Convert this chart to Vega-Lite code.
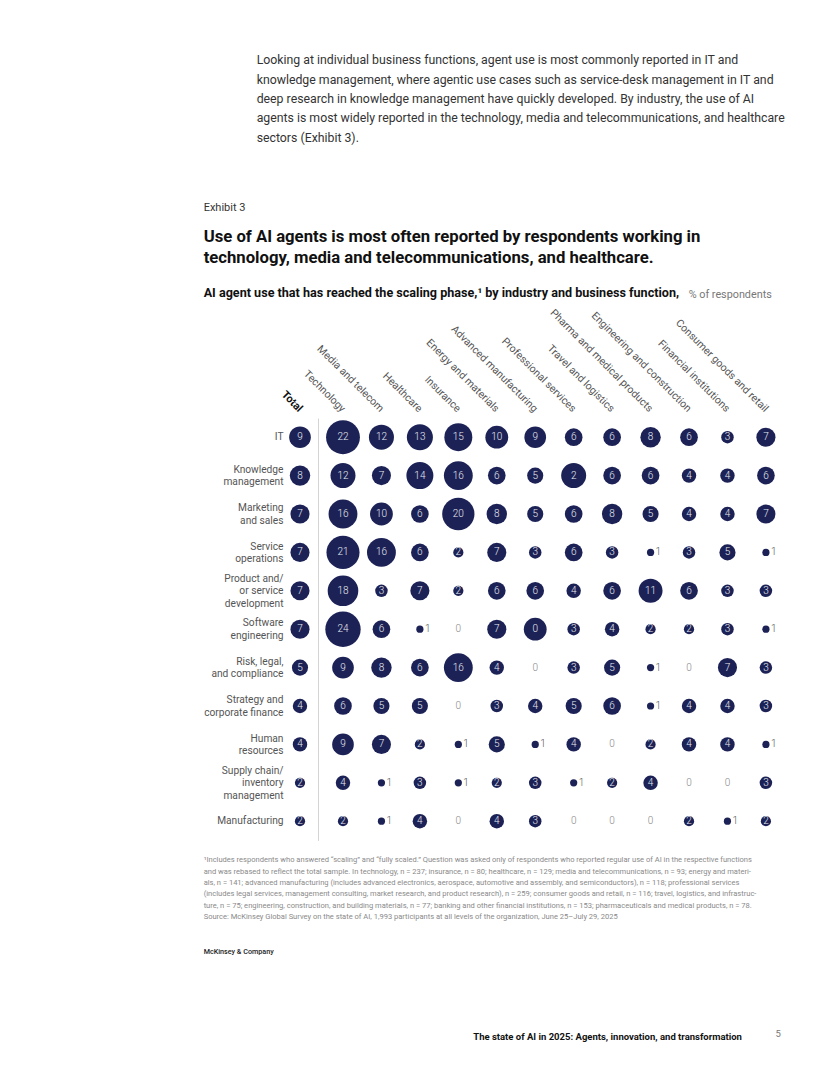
{
  "$schema": "https://vega.github.io/schema/vega-lite/v6.json",
  "padding": {"left": 203, "top": 54, "right": 0, "bottom": 0},
  "autosize": {"type": "pad"},
  "background": "white",
  "config": {
    "view": {"stroke": null},
    "font": "Roboto",
    "title": {"anchor": "start", "frame": "bounds", "font": "Roboto", "fontWeight": "normal", "color": "#333"},
    "axis": {"ticks": false, "domain": false, "grid": false, "title": null, "labelFont": "Roboto", "labelOverlap": false, "labelBound": false}
  },
  "data": {"values": [
    {"f":"IT","i":"Total","v":9},{"f":"IT","i":"Technology","v":22},{"f":"IT","i":"Media and telecom","v":12},{"f":"IT","i":"Healthcare","v":13},{"f":"IT","i":"Insurance","v":15},{"f":"IT","i":"Energy and materials","v":10},{"f":"IT","i":"Advanced manufacturing","v":9},{"f":"IT","i":"Professional services","v":6},{"f":"IT","i":"Travel and logistics","v":6},{"f":"IT","i":"Pharma and medical products","v":8},{"f":"IT","i":"Engineering and construction","v":6},{"f":"IT","i":"Financial institutions","v":3},{"f":"IT","i":"Consumer goods and retail","v":7},
    {"f":"Knowledge management","i":"Total","v":8},{"f":"Knowledge management","i":"Technology","v":12},{"f":"Knowledge management","i":"Media and telecom","v":7},{"f":"Knowledge management","i":"Healthcare","v":14},{"f":"Knowledge management","i":"Insurance","v":16},{"f":"Knowledge management","i":"Energy and materials","v":6},{"f":"Knowledge management","i":"Advanced manufacturing","v":5},{"f":"Knowledge management","i":"Professional services","v":12,"t":"2"},{"f":"Knowledge management","i":"Travel and logistics","v":6},{"f":"Knowledge management","i":"Pharma and medical products","v":6},{"f":"Knowledge management","i":"Engineering and construction","v":4},{"f":"Knowledge management","i":"Financial institutions","v":4},{"f":"Knowledge management","i":"Consumer goods and retail","v":6},
    {"f":"Marketing and sales","i":"Total","v":7},{"f":"Marketing and sales","i":"Technology","v":16},{"f":"Marketing and sales","i":"Media and telecom","v":10},{"f":"Marketing and sales","i":"Healthcare","v":6},{"f":"Marketing and sales","i":"Insurance","v":20},{"f":"Marketing and sales","i":"Energy and materials","v":8},{"f":"Marketing and sales","i":"Advanced manufacturing","v":5},{"f":"Marketing and sales","i":"Professional services","v":6},{"f":"Marketing and sales","i":"Travel and logistics","v":8},{"f":"Marketing and sales","i":"Pharma and medical products","v":5},{"f":"Marketing and sales","i":"Engineering and construction","v":4},{"f":"Marketing and sales","i":"Financial institutions","v":4},{"f":"Marketing and sales","i":"Consumer goods and retail","v":7},
    {"f":"Service operations","i":"Total","v":7},{"f":"Service operations","i":"Technology","v":21},{"f":"Service operations","i":"Media and telecom","v":16},{"f":"Service operations","i":"Healthcare","v":6},{"f":"Service operations","i":"Insurance","v":2},{"f":"Service operations","i":"Energy and materials","v":7},{"f":"Service operations","i":"Advanced manufacturing","v":3},{"f":"Service operations","i":"Professional services","v":6},{"f":"Service operations","i":"Travel and logistics","v":3},{"f":"Service operations","i":"Pharma and medical products","v":1},{"f":"Service operations","i":"Engineering and construction","v":3},{"f":"Service operations","i":"Financial institutions","v":5},{"f":"Service operations","i":"Consumer goods and retail","v":1},
    {"f":"Product and/or service development","i":"Total","v":7},{"f":"Product and/or service development","i":"Technology","v":18},{"f":"Product and/or service development","i":"Media and telecom","v":3},{"f":"Product and/or service development","i":"Healthcare","v":7},{"f":"Product and/or service development","i":"Insurance","v":2},{"f":"Product and/or service development","i":"Energy and materials","v":6},{"f":"Product and/or service development","i":"Advanced manufacturing","v":6},{"f":"Product and/or service development","i":"Professional services","v":4},{"f":"Product and/or service development","i":"Travel and logistics","v":6},{"f":"Product and/or service development","i":"Pharma and medical products","v":11},{"f":"Product and/or service development","i":"Engineering and construction","v":6},{"f":"Product and/or service development","i":"Financial institutions","v":3},{"f":"Product and/or service development","i":"Consumer goods and retail","v":3},
    {"f":"Software engineering","i":"Total","v":7},{"f":"Software engineering","i":"Technology","v":24},{"f":"Software engineering","i":"Media and telecom","v":6},{"f":"Software engineering","i":"Healthcare","v":1},{"f":"Software engineering","i":"Insurance","v":0},{"f":"Software engineering","i":"Energy and materials","v":7},{"f":"Software engineering","i":"Advanced manufacturing","v":10,"t":"0"},{"f":"Software engineering","i":"Professional services","v":3},{"f":"Software engineering","i":"Travel and logistics","v":4},{"f":"Software engineering","i":"Pharma and medical products","v":2},{"f":"Software engineering","i":"Engineering and construction","v":2},{"f":"Software engineering","i":"Financial institutions","v":3},{"f":"Software engineering","i":"Consumer goods and retail","v":1},
    {"f":"Risk, legal, and compliance","i":"Total","v":5},{"f":"Risk, legal, and compliance","i":"Technology","v":9},{"f":"Risk, legal, and compliance","i":"Media and telecom","v":8},{"f":"Risk, legal, and compliance","i":"Healthcare","v":6},{"f":"Risk, legal, and compliance","i":"Insurance","v":16},{"f":"Risk, legal, and compliance","i":"Energy and materials","v":4},{"f":"Risk, legal, and compliance","i":"Advanced manufacturing","v":0},{"f":"Risk, legal, and compliance","i":"Professional services","v":3},{"f":"Risk, legal, and compliance","i":"Travel and logistics","v":5},{"f":"Risk, legal, and compliance","i":"Pharma and medical products","v":1},{"f":"Risk, legal, and compliance","i":"Engineering and construction","v":0},{"f":"Risk, legal, and compliance","i":"Financial institutions","v":7},{"f":"Risk, legal, and compliance","i":"Consumer goods and retail","v":3},
    {"f":"Strategy and corporate finance","i":"Total","v":4},{"f":"Strategy and corporate finance","i":"Technology","v":6},{"f":"Strategy and corporate finance","i":"Media and telecom","v":5},{"f":"Strategy and corporate finance","i":"Healthcare","v":5},{"f":"Strategy and corporate finance","i":"Insurance","v":0},{"f":"Strategy and corporate finance","i":"Energy and materials","v":3},{"f":"Strategy and corporate finance","i":"Advanced manufacturing","v":4},{"f":"Strategy and corporate finance","i":"Professional services","v":5},{"f":"Strategy and corporate finance","i":"Travel and logistics","v":6},{"f":"Strategy and corporate finance","i":"Pharma and medical products","v":1},{"f":"Strategy and corporate finance","i":"Engineering and construction","v":4},{"f":"Strategy and corporate finance","i":"Financial institutions","v":4},{"f":"Strategy and corporate finance","i":"Consumer goods and retail","v":3},
    {"f":"Human resources","i":"Total","v":4},{"f":"Human resources","i":"Technology","v":9},{"f":"Human resources","i":"Media and telecom","v":7},{"f":"Human resources","i":"Healthcare","v":2},{"f":"Human resources","i":"Insurance","v":1},{"f":"Human resources","i":"Energy and materials","v":5},{"f":"Human resources","i":"Advanced manufacturing","v":1},{"f":"Human resources","i":"Professional services","v":4},{"f":"Human resources","i":"Travel and logistics","v":0},{"f":"Human resources","i":"Pharma and medical products","v":2},{"f":"Human resources","i":"Engineering and construction","v":4},{"f":"Human resources","i":"Financial institutions","v":4},{"f":"Human resources","i":"Consumer goods and retail","v":1},
    {"f":"Supply chain/inventory management","i":"Total","v":2},{"f":"Supply chain/inventory management","i":"Technology","v":4},{"f":"Supply chain/inventory management","i":"Media and telecom","v":1},{"f":"Supply chain/inventory management","i":"Healthcare","v":3},{"f":"Supply chain/inventory management","i":"Insurance","v":1},{"f":"Supply chain/inventory management","i":"Energy and materials","v":2},{"f":"Supply chain/inventory management","i":"Advanced manufacturing","v":3},{"f":"Supply chain/inventory management","i":"Professional services","v":1},{"f":"Supply chain/inventory management","i":"Travel and logistics","v":2},{"f":"Supply chain/inventory management","i":"Pharma and medical products","v":4},{"f":"Supply chain/inventory management","i":"Engineering and construction","v":0},{"f":"Supply chain/inventory management","i":"Financial institutions","v":0},{"f":"Supply chain/inventory management","i":"Consumer goods and retail","v":3},
    {"f":"Manufacturing","i":"Total","v":2},{"f":"Manufacturing","i":"Technology","v":2},{"f":"Manufacturing","i":"Media and telecom","v":1},{"f":"Manufacturing","i":"Healthcare","v":4},{"f":"Manufacturing","i":"Insurance","v":0},{"f":"Manufacturing","i":"Energy and materials","v":4},{"f":"Manufacturing","i":"Advanced manufacturing","v":3},{"f":"Manufacturing","i":"Professional services","v":0},{"f":"Manufacturing","i":"Travel and logistics","v":0},{"f":"Manufacturing","i":"Pharma and medical products","v":0},{"f":"Manufacturing","i":"Engineering and construction","v":2},{"f":"Manufacturing","i":"Financial institutions","v":1},{"f":"Manufacturing","i":"Consumer goods and retail","v":2}
  ]},
  "title": {
    "text": [
      "Looking at individual business functions, agent use is most commonly reported in IT and",
      "knowledge management, where agentic use cases such as service-desk management in IT and",
      "deep research in knowledge management have quickly developed. By industry, the use of AI",
      "agents is most widely reported in the technology, media and telecommunications, and healthcare",
      "sectors (Exhibit 3)."
    ],
    "fontSize": 12.3, "lineHeight": 19.3, "color": "#333", "dx": 53, "offset": 58
  },
  "vconcat": [{
    "title": {"text": "5", "orient": "bottom", "anchor": "end", "fontSize": 9.5, "color": "#777", "offset": -12, "dx": -10},
    "vconcat": [{
      "title": {"text": "The state of AI in 2025: Agents, innovation, and transformation", "orient": "bottom", "anchor": "end", "fontSize": 9.5, "fontWeight": "bold", "color": "#111", "offset": 76, "dx": -49},
      "vconcat": [{
        "title": {
          "text": "Exhibit 3", "fontSize": 11, "color": "#333",
          "subtitle": ["Use of AI agents is most often reported by respondents working in", "technology, media and telecommunications, and healthcare."],
          "subtitleFont": "Roboto", "subtitleFontSize": 16.7, "subtitleFontWeight": "bold", "subtitleColor": "#111", "subtitleLineHeight": 21, "subtitlePadding": 16, "offset": 20
        },
        "vconcat": [{
          "title": {"text": "% of respondents", "fontSize": 10.8, "color": "#777", "dx": 485, "offset": -13},
          "vconcat": [{
            "title": {"text": "AI agent use that has reached the scaling phase,\u00b9 by industry and business function,", "fontSize": 12.6, "fontWeight": "bold", "color": "#111", "offset": 8},
            "vconcat": [{
              "title": {
                "text": [
                  "\u00b9Includes respondents who answered \u201cscaling\u201d and \u201cfully scaled.\u201d Question was asked only of respondents who reported regular use of AI in the respective functions",
                  "\u00a0and was rebased to reflect the total sample. In technology, n = 237; insurance, n = 80; healthcare, n = 129; media and telecommunications, n = 93; energy and materi-",
                  "\u00a0als, n = 141; advanced manufacturing (includes advanced electronics, aerospace, automotive and assembly, and semiconductors), n = 118; professional services",
                  "\u00a0(includes legal services, management consulting, market research, and product research), n = 259; consumer goods and retail, n = 116; travel, logistics, and infrastruc-",
                  "\u00a0ture, n = 75; engineering, construction, and building materials, n = 77; banking and other financial institutions, n = 153; pharmaceuticals and medical products, n = 78.",
                  "Source: McKinsey Global Survey on the state of AI, 1,993 participants at all levels of the organization, June 25\u2013July 29, 2025"
                ],
                "orient": "bottom", "fontSize": 7.55, "lineHeight": 11.3, "color": "#8a8a8a", "offset": 16,
                "subtitle": "McKinsey & Company", "subtitleFontSize": 7.2, "subtitleFontWeight": 500, "subtitleColor": "#222", "subtitlePadding": 28
              },
              "spacing": 5,
              "bounds": "flush",
              "resolve": {"scale": {"x": "independent", "y": "independent"}},
              "hconcat": [
                {
                  "width": 26, "height": 422.4,
                  "transform": [{"filter": "datum.i == 'Total'"}, {"calculate": "isValid(datum.t) ? datum.t : format(datum.v, 'd')", "as": "lbl"}],
                  "encoding": {
                    "x": {"field": "i", "type": "nominal", "scale": {"type": "point", "padding": 0.5},
                      "axis": {"orient": "top", "labelAngle": 45, "labelAlign": "right", "labelBaseline": "middle", "labelPadding": 8, "labelDx": 4, "labelFontSize": 11, "labelFontWeight": "bold", "labelColor": "#111"}},
                    "y": {"field": "f", "type": "nominal", "sort": ["IT","Knowledge management","Marketing and sales","Service operations","Product and/or service development","Software engineering","Risk, legal, and compliance","Strategy and corporate finance","Human resources","Supply chain/inventory management","Manufacturing"],
                      "scale": {"type": "point", "padding": 0.5},
                      "axis": {"labelPadding": 4, "labelFontSize": 10.2, "labelColor": "#555", "labelLineHeight": 12.5,
                        "labelBaseline": {"condition": {"test": "datum.value == 'IT' || datum.value == 'Manufacturing'", "value": "line-top"}, "value": "middle"},
                        "labelOffset": {"condition": {"test": "indexof(datum.value, '/') >= 0", "value": -12.5}, "value": -6.25},
                        "labelExpr": "datum.label == 'Knowledge management' ? ['Knowledge','management'] : datum.label == 'Marketing and sales' ? ['Marketing','and sales'] : datum.label == 'Service operations' ? ['Service','operations'] : datum.label == 'Product and/or service development' ? ['Product and/','or service','development'] : datum.label == 'Software engineering' ? ['Software','engineering'] : datum.label == 'Risk, legal, and compliance' ? ['Risk, legal,','and compliance'] : datum.label == 'Strategy and corporate finance' ? ['Strategy and','corporate finance'] : datum.label == 'Human resources' ? ['Human','resources'] : datum.label == 'Supply chain/inventory management' ? ['Supply chain/','inventory','management'] : datum.label"}}
                  },
                  "layer": [
                    {"transform": [{"filter": "datum.v > 0"}], "mark": {"type": "circle", "opacity": 1, "color": "#1c2256"},
                      "encoding": {"size": {"field": "v", "type": "quantitative", "scale": {"type": "linear", "domain": [0, 24], "range": [0, 1250], "zero": true}, "legend": null}}},
                    {"transform": [{"filter": "datum.v >= 2"}], "mark": {"type": "text", "color": "#e8eaf2", "fontSize": 10, "fontWeight": 300, "baseline": "middle", "align": "center"},
                      "encoding": {"text": {"field": "lbl"}}},
                    {"transform": [{"filter": "datum.v == 1"}], "mark": {"type": "text", "color": "#555", "fontSize": 10, "fontWeight": 300, "baseline": "middle", "align": "left", "dx": 5},
                      "encoding": {"text": {"field": "lbl"}}},
                    {"transform": [{"filter": "datum.v == 0"}], "mark": {"type": "text", "color": "#888", "fontSize": 10, "fontWeight": 300, "baseline": "middle", "align": "center"},
                      "encoding": {"text": {"field": "lbl"}}}
                  ]
                },
                {
                  "width": 472.9, "height": 422.4,
                  "transform": [{"filter": "datum.i != 'Total'"}, {"calculate": "isValid(datum.t) ? datum.t : format(datum.v, 'd')", "as": "lbl"}],
                  "encoding": {
                    "x": {"field": "i", "type": "nominal", "sort": ["Technology","Media and telecom","Healthcare","Insurance","Energy and materials","Advanced manufacturing","Professional services","Travel and logistics","Pharma and medical products","Engineering and construction","Financial institutions","Consumer goods and retail"],
                      "scale": {"type": "point", "padding": 0.65},
                      "axis": {"orient": "top", "labelAngle": 45, "labelAlign": "right", "labelBaseline": "middle", "labelPadding": 8, "labelDx": 2, "labelFontSize": 10.5, "labelColor": "#555", "labelLimit": 0}},
                    "y": {"field": "f", "type": "nominal", "sort": ["IT","Knowledge management","Marketing and sales","Service operations","Product and/or service development","Software engineering","Risk, legal, and compliance","Strategy and corporate finance","Human resources","Supply chain/inventory management","Manufacturing"],
                      "scale": {"type": "point", "padding": 0.5},
                      "axis": {"labels": false, "domain": true, "domainColor": "#d4d4d4", "domainWidth": 1, "minExtent": 0, "maxExtent": 0}}
                  },
                  "layer": [
                    {"transform": [{"filter": "datum.v > 0"}], "mark": {"type": "circle", "opacity": 1, "color": "#1c2256"},
                      "encoding": {"size": {"field": "v", "type": "quantitative", "scale": {"type": "linear", "domain": [0, 24], "range": [0, 1250], "zero": true}, "legend": null}}},
                    {"transform": [{"filter": "datum.v >= 2"}], "mark": {"type": "text", "color": "#e8eaf2", "fontSize": 10, "fontWeight": 300, "baseline": "middle", "align": "center"},
                      "encoding": {"text": {"field": "lbl"}}},
                    {"transform": [{"filter": "datum.v == 1"}], "mark": {"type": "text", "color": "#555", "fontSize": 10, "fontWeight": 300, "baseline": "middle", "align": "left", "dx": 5},
                      "encoding": {"text": {"field": "lbl"}}},
                    {"transform": [{"filter": "datum.v == 0"}], "mark": {"type": "text", "color": "#888", "fontSize": 10, "fontWeight": 300, "baseline": "middle", "align": "center"},
                      "encoding": {"text": {"field": "lbl"}}}
                  ]
                }
              ]
            }]
          }]
        }]
      }]
    }]
  }]
}
